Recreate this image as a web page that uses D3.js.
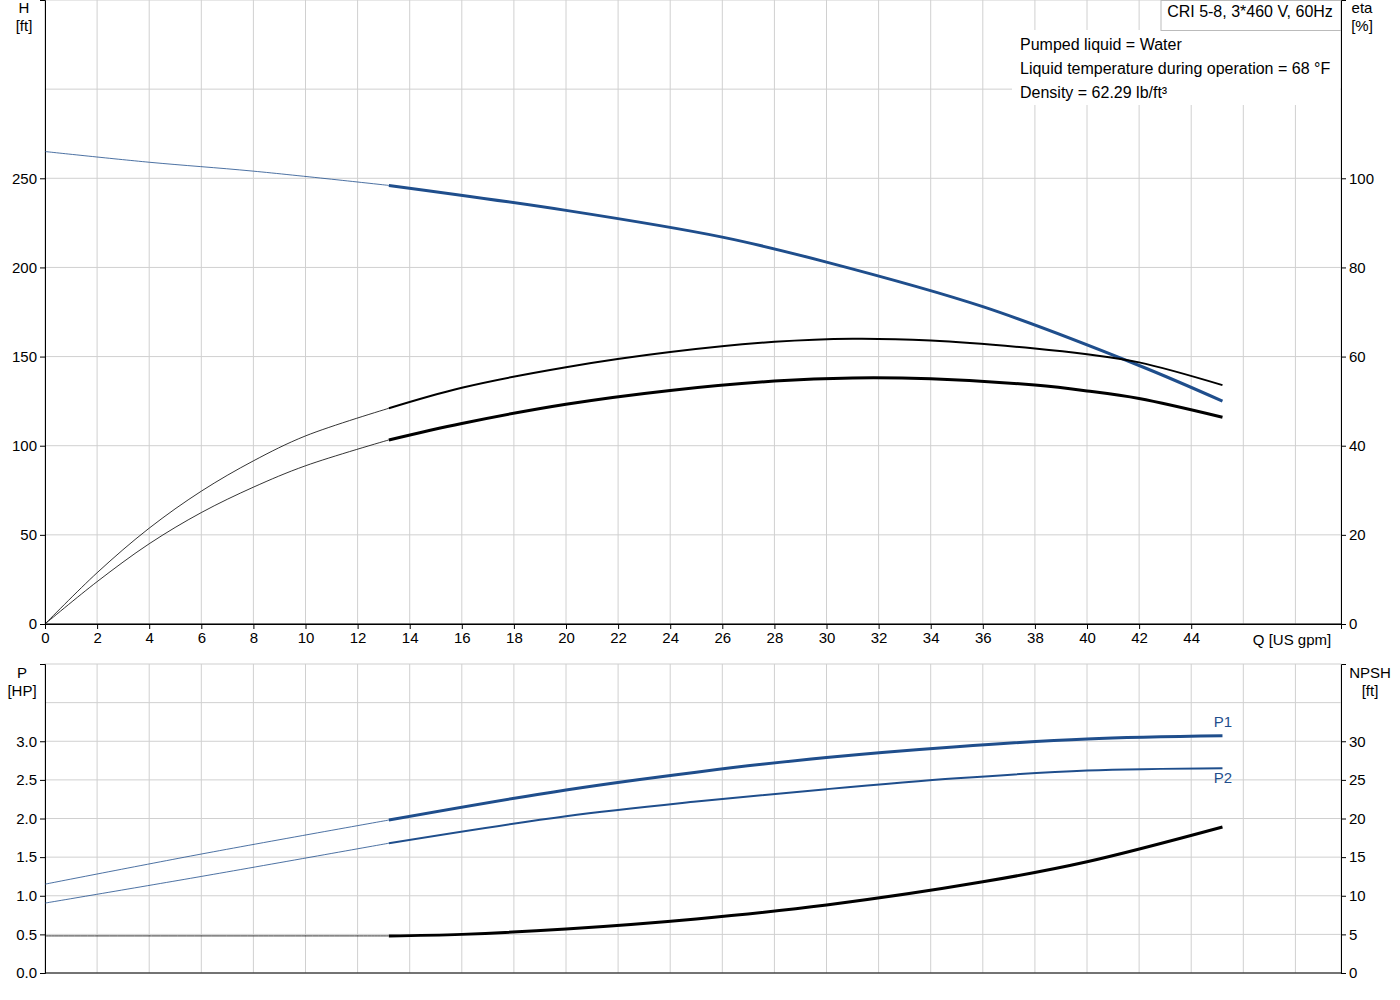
<!DOCTYPE html><html><head><meta charset="utf-8">
<script src="https://cdn.jsdelivr.net/npm/d3@7"></script>
<style>body{margin:0;background:#fff}text{font-family:"Liberation Sans",Arial,sans-serif;font-size:15px}</style>
</head><body><svg id="c" width="1400" height="1000"></svg><script>
const qH=[0,4,8,13.2,20,26,30,36,42,45.2];
const H=[265,259,254,246,232,217,203,178,145,125];
const qE=[0,2,4,6,8,10,13.2,16,20,24,28,31,34,38,40,42,45.2];
const eta1=[0,11.5,21.5,29.8,36.6,42.2,48.4,53,57.6,61,63.3,64,63.6,61.8,60.5,58.7,53.6];
const eta2=[0,9.5,18,25,30.7,35.5,41.3,45,49.3,52.4,54.5,55.2,55,53.6,52.3,50.6,46.4];
const qP=[0,6,13.2,20,25,30,35,40,45.2];
const P1=[1.15,1.54,1.98,2.37,2.60,2.79,2.93,3.03,3.07];
const P2=[0.905,1.25,1.68,2.03,2.22,2.38,2.52,2.62,2.65];
const qN=[0,8,13.2,16,20,25,30,36,40,45.2];
const NPSH=[4.8,4.8,4.8,5.0,5.7,7.0,8.8,11.8,14.4,18.9];
const qTicks=d3.range(0,45,2), hTicks=[0,50,100,150,200,250], eTicks=[0,20,40,60,80,100];
const pTicks=[0,0.5,1,1.5,2,2.5,3], nTicks=[0,5,10,15,20,25,30];
const info=["Pumped liquid = Water","Liquid temperature during operation = 68 °F","Density = 62.29 lb/ft³"];
const blue="#1f4e8c";
const svg=d3.select("#c");
const L=45,R=1341;
const x=d3.scaleLinear().domain([0,49.75]).range([L,R]);
const yH=d3.scaleLinear().domain([0,350]).range([624,0]);
const yE=d3.scaleLinear().domain([0,140]).range([624,0]);
const yP=d3.scaleLinear().domain([0,4]).range([973,664]);
const yN=d3.scaleLinear().domain([0,40]).range([973,664]);
const g=svg.append("g");
function grid(y0,y1,ys,yscale){
  d3.range(0,50,2).forEach(q=>g.append("line").attr("x1",x(q)).attr("x2",x(q)).attr("y1",y0).attr("y2",y1).attr("stroke","#d0d0d0"));
  ys.forEach(v=>g.append("line").attr("x1",L).attr("x2",R).attr("y1",yscale(v)).attr("y2",yscale(v)).attr("stroke","#d0d0d0"));
  g.append("rect").attr("x",L).attr("y",y0).attr("width",R-L).attr("height",y1-y0).attr("fill","none").attr("stroke","#d0d0d0");
}
grid(0,624,[50,100,150,200,250,300],yH);
grid(664,973,[0.5,1,1.5,2,2.5,3,3.5],yP);
g.append("rect").attr("x",1012).attr("y",30).attr("width",328).attr("height",75).attr("fill","#fff");
g.append("rect").attr("x",1161).attr("y",0.5).attr("width",180).attr("height",30).attr("fill","#fff").attr("stroke","#bbb");
svg.append("text").attr("x",1250).attr("y",17).attr("text-anchor","middle").style("font-size","16px").text("CRI 5-8, 3*460 V, 60Hz");
info.forEach((t,i)=>svg.append("text").attr("x",1020).attr("y",50+i*24).style("font-size","16px").text(t));
function ax(gen,tx,ty,fmt,vals){const a=svg.append("g").attr("transform",`translate(${tx},${ty})`).call(gen.tickValues(vals).tickFormat(fmt).tickSize(5).tickPadding(3));a.selectAll("text").style("font-size","15px").attr("fill","#000");a.select(".domain").attr("stroke","#000");a.selectAll("line").attr("stroke","#000");}
ax(d3.axisBottom(x),0,624,d3.format("d"),qTicks);
svg.append("line").attr("x1",L).attr("x2",R).attr("y1",624).attr("y2",624).attr("stroke","#000");
ax(d3.axisLeft(yH),L,0,d3.format("d"),hTicks);
ax(d3.axisRight(yE),R,0,d3.format("d"),eTicks);
ax(d3.axisLeft(yP),L,0,d3.format(".1f"),pTicks);
ax(d3.axisRight(yN),R,0,d3.format("d"),nTicks);
svg.append("line").attr("x1",L).attr("x2",R).attr("y1",973).attr("y2",973).attr("stroke","#000");
const lab=(t,xx,yy,a="middle",c="#000")=>svg.append("text").attr("x",xx).attr("y",yy).attr("text-anchor",a).attr("fill",c).text(t);
lab("H",24,13);lab("[ft]",24,31);lab("eta",1362,13);lab("[%]",1362,31);
lab("Q [US gpm]",1292,645);
lab("P",22,678);lab("[HP]",22,696);lab("NPSH",1370,678);lab("[ft]",1370,696);
lab("P1",1223,727,"middle",blue);lab("P2",1223,783,"middle",blue);
function curve(qs,vs,ys,color,w){
  const pts=qs.map((q,i)=>[x(q),ys(vs[i])]);
  const line=d3.line().curve(d3.curveCatmullRom.alpha(0.5));
  const i0=qs.indexOf(13.2);
  svg.append("path").attr("d",line(pts.slice(0,i0+1))).attr("fill","none").attr("stroke",color).attr("stroke-width",0.8);
  svg.append("path").attr("d",line(pts.slice(i0))).attr("fill","none").attr("stroke",color).attr("stroke-width",w);
}
curve(qH,H,yH,blue,3);
curve(qE,eta1,yE,"#000",2);
curve(qE,eta2,yE,"#000",3);
curve(qP,P1,yP,blue,3);
curve(qP,P2,yP,blue,2);
curve(qN,NPSH,yN,"#000",3);
</script></body></html>
